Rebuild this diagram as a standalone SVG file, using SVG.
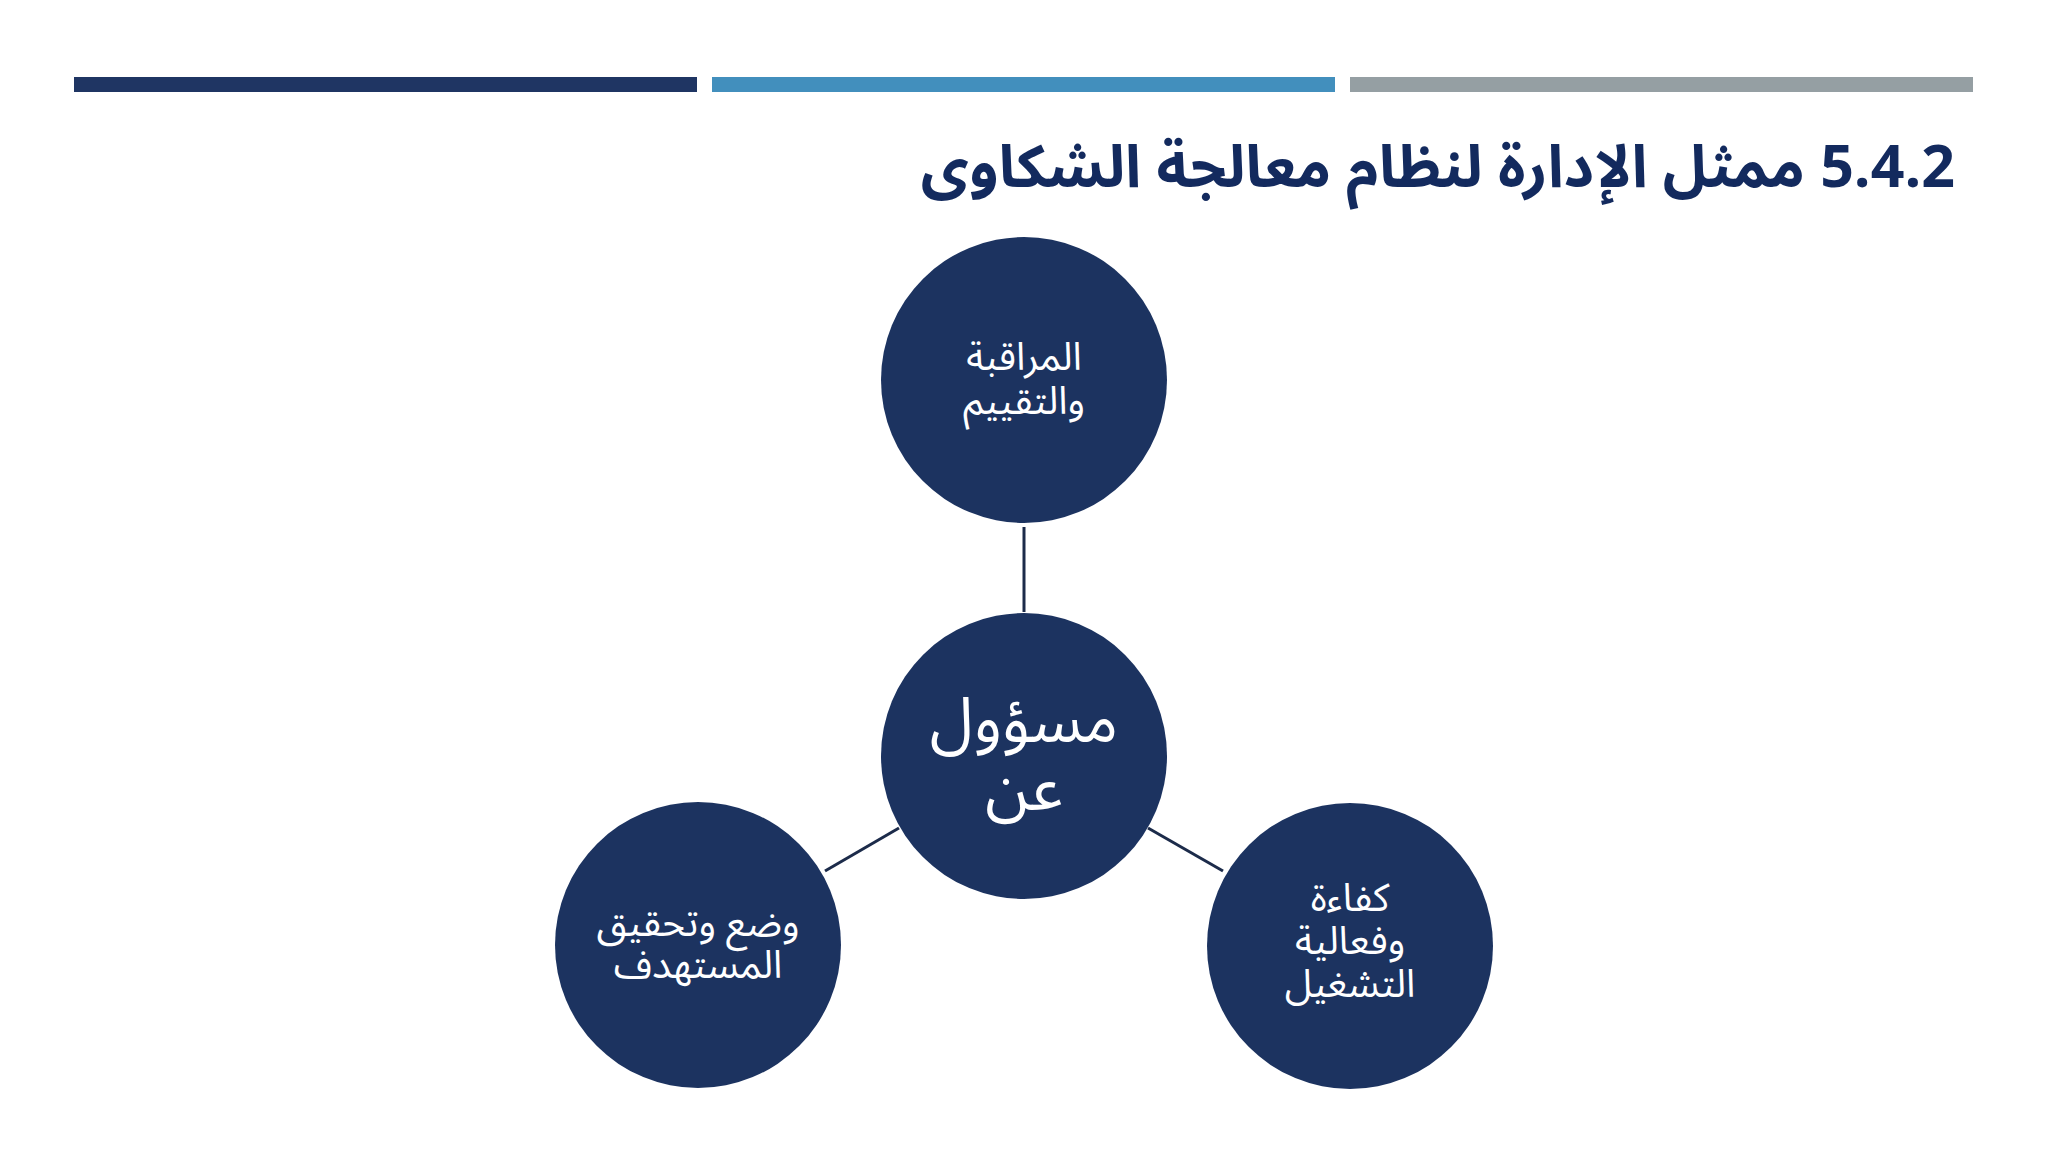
<svg xmlns="http://www.w3.org/2000/svg" width="2048" height="1152" viewBox="0 0 2048 1152">
<style>
.node{fill:#1c3360;}
.lbl{fill:#ffffff;font-family:"Noto Sans Arabic","DejaVu Sans",sans-serif;font-size:39px;text-anchor:middle;direction:rtl;}
.big{font-size:63px;}
.conn{stroke:#1c2b4a;stroke-width:3;fill:none;}
.title{fill:#132a5e;font-family:"Noto Sans Arabic","DejaVu Sans",sans-serif;font-size:59px;font-weight:bold;direction:rtl;}
</style>
<rect width="2048" height="1152" fill="#ffffff"/>
<g id="bars">
<rect x="74" y="77" width="623" height="15" fill="#1f3563"/>
<rect x="712" y="77" width="623" height="15" fill="#428fbd"/>
<rect x="1350" y="77" width="623" height="15" fill="#959fa3"/>
</g>
<text id="title" class="title" x="1955" y="187" text-anchor="start">5.4.2 ممثل الإدارة لنظام معالجة الشكاوى</text>
<g id="connectors">
<line class="conn" x1="1024" y1="527" x2="1024" y2="612"/>
<line class="conn" x1="899" y1="828" x2="825" y2="871"/>
<line class="conn" x1="1148" y1="828" x2="1223" y2="871"/>
</g>
<g id="node-top">
<circle class="node" cx="1024" cy="380" r="143"/>
<text class="lbl" x="1024" y="370">المراقبة</text>
<text class="lbl" x="1024" y="414">والتقييم</text>
</g>
<g id="node-center">
<circle class="node" cx="1024" cy="756" r="143"/>
<text class="lbl big" x="1024" y="742">مسؤول</text>
<text class="lbl big" x="1024" y="810">عن</text>
</g>
<g id="node-left">
<circle class="node" cx="698" cy="945" r="143"/>
<text class="lbl" x="698" y="936">وضع وتحقيق</text>
<text class="lbl" x="698" y="978">المستهدف</text>
</g>
<g id="node-right">
<circle class="node" cx="1350" cy="946" r="143"/>
<text class="lbl" x="1350" y="911">كفاءة</text>
<text class="lbl" x="1350" y="954">وفعالية</text>
<text class="lbl" x="1350" y="997">التشغيل</text>
</g>
</svg>
